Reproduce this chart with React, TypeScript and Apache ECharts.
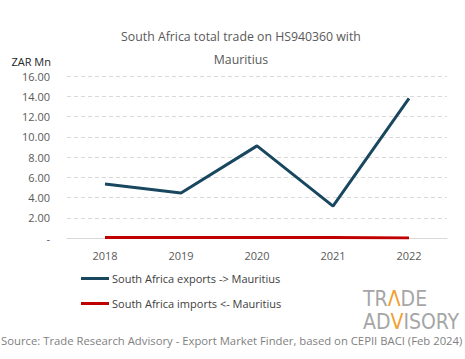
import React, { useEffect, useRef } from "react";
import * as echarts from "echarts";

const years = ["2018", "2019", "2020", "2021", "2022"];
const exportsZar = [5.33, 4.45, 9.1, 3.15, 13.8];
const importsZar = [0.05, 0.05, 0.05, 0.04, 0.0];
const titleLines = ["South Africa total trade on HS940360 with", "Mauritius"];
const seriesNames = ["South Africa exports -> Mauritius", "South Africa imports <- Mauritius"];
const sourceText = "Source: Trade Research Advisory - Export Market Finder, based on CEPII BACI (Feb 2024)";

const FONT = "'Open Sans', 'Noto Sans', sans-serif";
const LOGO_FONT = "'DejaVu Sans Condensed', 'DejaVu Sans', sans-serif";

export default function App() {
  const ref = useRef<HTMLDivElement>(null);
  useEffect(() => {
    const chart = echarts.init(ref.current!, null, { renderer: "svg" });
    chart.setOption({
      animation: false,
      backgroundColor: "#ffffff",
      title: {
        text: titleLines.join("\n"),
        left: 236,
        textAlign: "center",
        top: 20,
        textStyle: { fontFamily: FONT, fontSize: 12.3, fontWeight: "normal", color: "#595959", lineHeight: 23 },
      },
      grid: { left: 67, right: 18, top: 76, bottom: 121, containLabel: false },
      xAxis: {
        type: "category",
        data: years,
        boundaryGap: true,
        axisLine: { show: true, lineStyle: { color: "#d9d9d9", width: 1 } },
        axisTick: { show: false },
        axisLabel: { color: "#595959", fontFamily: FONT, fontSize: 11, margin: 12 },
      },
      yAxis: {
        type: "value",
        min: 0,
        max: 16,
        interval: 2,
        name: "ZAR Mn",
        nameLocation: "end",
        nameGap: 9,
        nameTextStyle: { color: "#262626", fontFamily: FONT, fontSize: 11, align: "right", padding: [0, 16, 0, 0] },
        axisLine: { show: false },
        axisTick: { show: false },
        axisLabel: {
          color: "#595959",
          fontFamily: FONT,
          fontSize: 11,
          margin: 17,
          formatter: (v: number) => (v === 0 ? "-" : v.toFixed(2)),
        },
        splitLine: { lineStyle: { color: "#d9d9d9", type: [4, 3], width: 1 } },
      },
      legend: {
        orient: "vertical",
        left: 76,
        top: 268,
        itemGap: 14,
        itemWidth: 28,
        itemHeight: 3,
        icon: "rect",
        textStyle: { color: "#404040", fontFamily: FONT, fontSize: 11, padding: [0, 0, 0, -2] },
        data: seriesNames,
      },
      series: [
        {
          name: seriesNames[0],
          type: "line",
          data: exportsZar,
          symbol: "none",
          lineStyle: { color: "#1a4760", width: 3 },
          itemStyle: { color: "#1a4760" },
        },
        {
          name: seriesNames[1],
          type: "line",
          data: importsZar,
          symbol: "none",
          lineStyle: { color: "#c00000", width: 3 },
          itemStyle: { color: "#c00000" },
        },
      ],
      graphic: [
        {
          type: "text",
          left: 363,
          top: 288,
          style: {
            text: "TR{o|Λ}DE",
            fill: "#a6a6a6",
            fontFamily: LOGO_FONT,
            fontSize: 21,
            fontWeight: 200,
            rich: { o: { fill: "#f0a030", fontSize: 21, fontFamily: LOGO_FONT } },
          },
        },
        {
          type: "text",
          left: 363,
          top: 311,
          style: {
            text: "AD{o|V}ISORY",
            fill: "#a6a6a6",
            fontFamily: LOGO_FONT,
            fontSize: 21,
            fontWeight: 200,
            rich: { o: { fill: "#f0a030", fontSize: 21, fontFamily: LOGO_FONT } },
          },
        },
        {
          type: "text",
          left: 1,
          top: 335,
          style: {
            text: sourceText,
            fill: "#7f7f7f",
            fontFamily: FONT,
            fontSize: 11.3,
          },
        },
      ],
    });
    return () => chart.dispose();
  }, []);
  return <div ref={ref} style={{ width: 465, height: 359, position: "absolute", left: 0, top: 0 }} />;
}
